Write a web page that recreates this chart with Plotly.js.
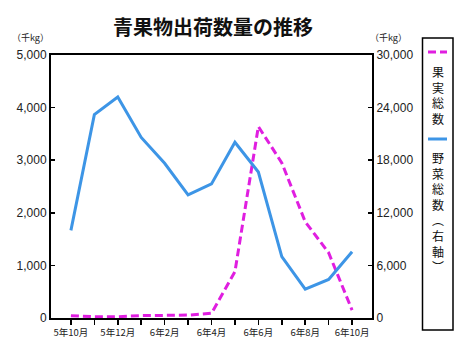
<!DOCTYPE html>
<html>
<head>
<meta charset="utf-8">
<script src="https://cdn.plot.ly/plotly-3.0.1.min.js"></script>
<style>html,body{margin:0;padding:0;background:#fff;}#chart{width:466px;height:359px;}</style>
</head>
<body>
<div id="chart"></div>
<script>
var months = ["5年10月","5年11月","5年12月","6年1月","6年2月","6年3月","6年4月","6年5月","6年6月","6年7月","6年8月","6年9月","6年10月"];
var tickLabels = ["5年10月","","5年12月","","6年2月","","6年4月","","6年6月","","6年8月","","6年10月"];
var fruitTotal = [45, 25, 25, 45, 50, 55, 90, 880, 3640, 2950, 1830, 1240, 150];
var vegTotal = [10000, 23200, 25200, 20600, 17650, 14050, 15300, 20050, 16650, 7000, 3300, 4400, 7550];
var fruitName = "果実総数";
var vegName = "野菜総数（右軸）";

var magenta = "#e01ee0";
var blue = "#3d95e6";
var jp = "'Noto Sans CJK JP', sans-serif";
var num = "'Liberation Sans', Arial, sans-serif";

function vert(s){ return s.replace("（","︵").replace("）","︶").split("").join("<br>"); }

var traces = [
  {x: months, y: fruitTotal, name: fruitName, type: "scatter", mode: "lines",
   line: {color: magenta, width: 3, dash: "8px,4px"}, yaxis: "y", showlegend: false},
  {x: months, y: vegTotal, name: vegName, type: "scatter", mode: "lines",
   line: {color: blue, width: 3}, yaxis: "y2", showlegend: false}
];

function px(p){ return (p-51)/321; }
function py(p){ return (318-p)/263; }

var layout = {
  width: 466, height: 359,
  margin: {l: 51, r: 94, t: 55, b: 41},
  paper_bgcolor: "#fff", plot_bgcolor: "#fff",
  title: {text: "<b>青果物出荷数量の推移</b>", font: {family: jp, size: 20, color: "#111"},
          x: 213/466, xanchor: "center", y: 1-28/359, yanchor: "middle", xref: "container", yref: "container"},
  xaxis: {type: "category", range: [-0.85, 12.85], tickmode: "array", tickvals: months, ticktext: tickLabels,
          ticks: "outside", ticklen: 5, tickwidth: 1.5, tickcolor: "#000",
          showline: true, linecolor: "#000", linewidth: 2, mirror: true, showgrid: false, zeroline: false,
          tickfont: {family: jp, size: 9.5, color: "#222"}},
  yaxis: {range: [0, 5000], dtick: 1000, tickformat: ",d", ticks: "inside", ticklen: 4, tickwidth: 1.5, tickcolor: "#000",
          showline: true, linecolor: "#000", linewidth: 2, showgrid: false, zeroline: false,
          tickfont: {family: num, size: 12, color: "#222"}},
  yaxis2: {range: [0, 30000], dtick: 6000, tickformat: ",d", overlaying: "y", side: "right",
           ticks: "inside", ticklen: 4, tickwidth: 1.5, tickcolor: "#000",
           showline: true, linecolor: "#000", linewidth: 2, showgrid: false, zeroline: false,
           tickfont: {family: num, size: 12, color: "#222"}},
  shapes: [
    {type: "rect", xref: "paper", yref: "paper", x0: px(422.5), x1: px(453), y0: py(330), y1: py(38),
     line: {color: "#000", width: 1.5}, fillcolor: "rgba(0,0,0,0)"},
    {type: "line", xref: "paper", yref: "paper", x0: px(428), x1: px(447), y0: py(52), y1: py(52),
     line: {color: magenta, width: 3, dash: "8px,4px"}},
    {type: "line", xref: "paper", yref: "paper", x0: px(428), x1: px(447), y0: py(139), y1: py(139),
     line: {color: blue, width: 3}}
  ],
  annotations: [
    {text: vert(fruitName), xref: "paper", yref: "paper", x: px(437.5), y: py(95), xanchor: "center", yanchor: "middle",
     showarrow: false, font: {family: jp, size: 12, color: "#111"}},
    {text: vert(vegName), xref: "paper", yref: "paper", x: px(437.5), y: py(212), xanchor: "center", yanchor: "middle",
     showarrow: false, font: {family: jp, size: 12, color: "#111"}},
    {text: "（千kg）", xref: "paper", yref: "paper", x: px(30), y: py(37), xanchor: "center", yanchor: "middle",
     showarrow: false, font: {family: jp, size: 9, color: "#222"}},
    {text: "（千kg）", xref: "paper", yref: "paper", x: px(389), y: py(37), xanchor: "center", yanchor: "middle",
     showarrow: false, font: {family: jp, size: 9, color: "#222"}}
  ]
};

Plotly.newPlot("chart", traces, layout, {displayModeBar: false, staticPlot: true});
</script>
</body>
</html>
